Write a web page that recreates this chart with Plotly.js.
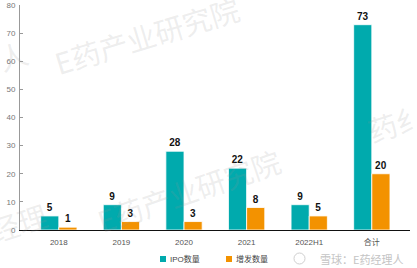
<!DOCTYPE html>
<html><head><meta charset="utf-8">
<script src="https://cdn.plot.ly/plotly-3.0.1.min.js"></script>
<style>html,body{margin:0;padding:0;background:#fff}#c{width:417px;height:268px}</style>
</head><body><div id="c"></div>
<script>
var categories = ["2018","2019","2020","2021","2022H1","合计"];
var ipoCounts = [5, 9, 28, 22, 9, 73];
var followOnCounts = [1, 3, 3, 8, 5, 20];
var seriesNames = ["IPO数量", "增发数量"];
var yTicks = [0,10,20,30,40,50,60,70,80];
var colors = ["#00AAAD", "#F39200"];

var FONT = "Liberation Sans, Arial, Noto Sans CJK SC, sans-serif";
var CJK = "Liberation Sans, Noto Sans CJK SC, sans-serif";
var wm = "rgba(150,150,150,0.17)";
// plot area in pixels: x 20..410, y 5..230
function px(x){ return (x-20)/390; }
function py(y){ return (230-y)/225; }
function mark(t, x, y, size, ang){
  return {text:t, xref:"paper", yref:"paper", x:px(x), y:py(y), xanchor:"center", yanchor:"middle",
    showarrow:false, textangle:ang, font:{family:"Noto Sans CJK SC, sans-serif", size:size, color:wm}};
}
function barTrace(vals, name, color){
  return {type:"bar", x:categories, y:vals, name:name,
   marker:{color:color, line:{color:"#ffffff", width:0.8}},
   text:vals.map(String), textposition:"outside", cliponaxis:false,
   textfont:{family:FONT, size:10, color:"#111"}, texttemplate:"<b>%{text}</b>", hoverinfo:"none"};
}
var traces = [barTrace(ipoCounts, seriesNames[0], colors[0]), barTrace(followOnCounts, seriesNames[1], colors[1])];

var legendItems = [{x:160, name:seriesNames[0], color:colors[0]}, {x:226, name:seriesNames[1], color:colors[1]}];
var shapes = legendItems.map(function(it){
  return {type:"rect", xref:"paper", yref:"paper", x0:px(it.x), x1:px(it.x+6), y0:py(262), y1:py(256),
    fillcolor:it.color, line:{width:0}};
});
var annotations = [
  mark("E药产业研究院", 146, 35, 29, -17),
  mark("E药产业研究院", 188, 190, 29, -19),
  mark("药纟", 396, 122, 29, -18),
  mark("人", 12, 55, 29, -18),
  mark("经理", 18, 222, 29, -18),
  {text:"雪球：E药经理人", xref:"paper", yref:"paper", x:px(405), y:py(259), xanchor:"right", yanchor:"middle",
   showarrow:false, font:{family:"Noto Sans CJK SC, sans-serif", size:11, color:"#c4c4c4"}}
];
legendItems.forEach(function(it){
  annotations.push({text:it.name, xref:"paper", yref:"paper", x:px(it.x+8), y:py(259), xanchor:"left", yanchor:"middle",
    showarrow:false, font:{family:CJK, size:8, color:"#444"}});
});
shapes.push({type:"circle", xref:"paper", yref:"paper", x0:px(294), x1:px(305), y0:py(264), y1:py(253),
  line:{color:"#cfcfcf", width:1}});

var layout = {
  width:417, height:268,
  margin:{l:20, r:7, t:5, b:38, autoexpand:false},
  paper_bgcolor:"#fff", plot_bgcolor:"rgba(0,0,0,0)",
  barmode:"group", bargap:0.42, bargroupgap:0,
  font:{family:FONT, size:9, color:"#555"},
  showlegend:false,
  xaxis:{type:"category", range:[-0.62, 5.61], showline:true, linecolor:"#111", linewidth:1,
    ticks:"", showgrid:false, zeroline:false, ticklabelstandoff:4,
    tickfont:{family:CJK, size:8, color:"#555"}},
  yaxis:{range:[0,80], tickvals:yTicks, showline:true, linecolor:"#999", linewidth:1,
    ticks:"inside", ticklen:3, tickcolor:"#999", showgrid:false, zeroline:false,
    tickfont:{family:FONT, size:8, color:"#777"}, ticklabelstandoff:2},
  shapes:shapes,
  annotations:annotations
};
Plotly.newPlot("c", traces, layout, {displayModeBar:false, staticPlot:true});
</script></body></html>
